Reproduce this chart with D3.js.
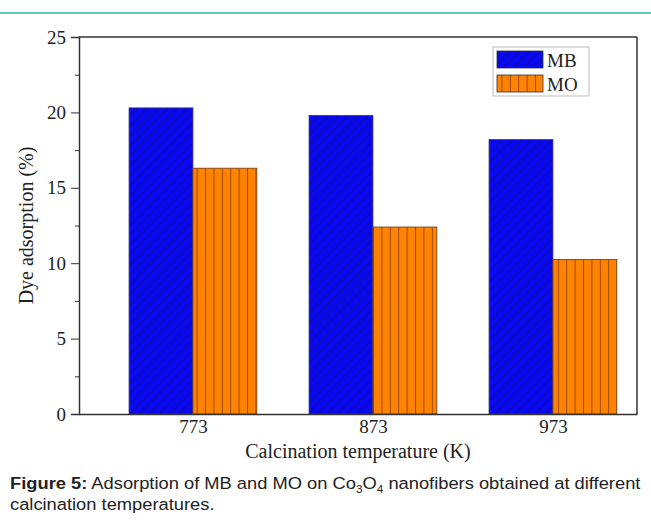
<!DOCTYPE html>
<html>
<head>
<meta charset="utf-8">
<script src="https://cdn.jsdelivr.net/npm/d3@7"></script>
<style>
  body { margin: 0; background: #fff; }
  svg { display: block; }
</style>
</head>
<body>
<div id="chart"></div>
<script>
// data
const temps = [773, 873, 973];
const mbValues = [20.3, 19.8, 18.2];
const moValues = [16.3, 12.4, 10.25];
const series = ["MB", "MO"];
const yTicks = [0, 5, 10, 15, 20, 25];

const W = 651, H = 522;
const margin = { top: 37, right: 14, bottom: 108, left: 79 },
    width = W - margin.left - margin.right,
    height = H - margin.top - margin.bottom;

const svg = d3.select("#chart")
    .append("svg")
    .attr("width", W)
    .attr("height", H);

// teal rule at top of page
svg.append("line")
    .attr("x1", 0).attr("x2", W)
    .attr("y1", 13).attr("y2", 13)
    .style("stroke", "#5ccdbb")
    .style("stroke-width", 2);

const defs = svg.append("defs");

// diagonal hatch for MB
const pMB = defs.append("pattern")
    .attr("id", "hatchMB")
    .attr("patternUnits", "userSpaceOnUse")
    .attr("width", 7).attr("height", 7)
    .attr("patternTransform", "rotate(45)");
pMB.append("rect").attr("width", 7).attr("height", 7).attr("fill", "#0808f5");
pMB.append("line")
    .attr("x1", 1).attr("y1", 0).attr("x2", 1).attr("y2", 7)
    .style("stroke", "#0c0cb0").style("stroke-width", 1.7);

// vertical lines for MO
const pMO = defs.append("pattern")
    .attr("id", "hatchMO")
    .attr("patternUnits", "userSpaceOnUse")
    .attr("width", 8.4).attr("height", 8)
    .attr("x", 0);
pMO.append("rect").attr("width", 8.4).attr("height", 8).attr("fill", "#ff8200");
pMO.append("line")
    .attr("x1", 0.5).attr("y1", 0).attr("x2", 0.5).attr("y2", 8)
    .style("stroke", "#9a4a10").style("stroke-width", 1);

const g = svg.append("g")
    .attr("transform", "translate(" + margin.left + "," + margin.top + ")");

// X scale (temperature, K)
const x = d3.scaleLinear()
    .domain([709.7, 1019.7])
    .range([0, width]);
const barW = x(773 + 35.5) - x(773);

// Y scale
const y = d3.scaleLinear()
    .domain([0, 25])
    .range([height, 0]);

const fill = d3.scaleOrdinal()
    .domain(series)
    .range(["url(#hatchMB)", "url(#hatchMO)"]);

// bars
const rows = temps.map((t, i) => ({ t: t, MB: mbValues[i], MO: moValues[i] }));
series.forEach((s, k) => {
    g.append("g")
        .selectAll("rect")
        .data(rows)
        .enter()
        .append("rect")
        .attr("x", d => x(d.t) + (k - 1) * barW)
        .attr("y", d => y(d[s]))
        .attr("width", barW)
        .attr("height", d => y(0) - y(d[s]))
        .attr("fill", fill(s))
        .style("stroke", k === 0 ? "#3a3a7a" : "#6a3a10")
        .style("stroke-width", 0.8);
});

const axisColor = "#333";
const tickFont = "'Liberation Serif', 'Times New Roman', serif";

// frame (top + right)
g.append("line").attr("x1", 0).attr("x2", width).attr("y1", 0).attr("y2", 0)
    .style("stroke", axisColor).style("stroke-width", 1.5);
g.append("line").attr("x1", width).attr("x2", width).attr("y1", 0).attr("y2", height)
    .style("stroke", axisColor).style("stroke-width", 1.5);

// minor y ticks
g.append("g")
    .call(d3.axisLeft(y).tickValues(d3.range(2.5, 25, 5)).tickSize(4).tickFormat(""))
    .call(a => a.select(".domain").remove())
    .selectAll("line").style("stroke", axisColor);

// Y axis
const yAxis = g.append("g")
    .call(d3.axisLeft(y).tickValues(yTicks).tickSize(8).tickPadding(5).tickFormat(d3.format("d")));
yAxis.select(".domain").style("stroke", axisColor).style("stroke-width", 1.5);
yAxis.selectAll(".tick line").style("stroke", axisColor);
yAxis.selectAll("text")
    .style("font-family", tickFont)
    .style("font-size", "19px")
    .style("fill", "#222");

// X axis
const xAxis = g.append("g")
    .attr("transform", "translate(0," + height + ")")
    .call(d3.axisBottom(x).tickValues(temps).tickSize(0).tickPadding(6).tickFormat(d3.format("d")));
xAxis.select(".domain").style("stroke", axisColor).style("stroke-width", 1.5);
xAxis.selectAll("text")
    .style("font-family", tickFont)
    .style("font-size", "19px")
    .style("fill", "#222");

// axis titles
g.append("text")
    .attr("text-anchor", "middle")
    .attr("x", width / 2)
    .attr("y", height + 44)
    .text("Calcination temperature (K)")
    .style("font-family", tickFont)
    .style("font-size", "20px")
    .style("fill", "#222");

g.append("text")
    .attr("text-anchor", "middle")
    .attr("transform", "rotate(-90)")
    .attr("x", -height / 2)
    .attr("y", -46)
    .text("Dye adsorption (%)")
    .style("font-family", tickFont)
    .style("font-size", "20px")
    .style("fill", "#222");

// legend
const legend = svg.append("g")
    .attr("transform", "translate(493,47)");
legend.append("rect")
    .attr("width", 96).attr("height", 49)
    .attr("fill", "#fff")
    .style("stroke", "#bbb").style("stroke-width", 1);
series.forEach((s, i) => {
    legend.append("rect")
        .attr("x", 4).attr("y", 4 + i * 24)
        .attr("width", 46).attr("height", 17)
        .attr("fill", fill(s))
        .style("stroke", "#333").style("stroke-width", 0.8);
    legend.append("text")
        .attr("x", 54).attr("y", 13 + i * 24)
        .attr("dy", "0.35em")
        .text(s)
        .style("font-family", tickFont)
        .style("font-size", "19px")
        .style("fill", "#222");
});

// caption, condensed horizontally to fit like the original
const capFont = "'Liberation Sans', Arial, sans-serif";
const cap = svg.append("g").attr("transform", "translate(10,0)");
const cap1 = cap.append("text")
    .attr("y", 489)
    .style("font-family", capFont)
    .style("font-size", "17px")
    .style("fill", "#222");
cap1.append("tspan").style("font-weight", "bold").text("Figure 5:");
cap1.append("tspan").text(" Adsorption of MB and MO on Co");
cap1.append("tspan").attr("dy", 4).style("font-size", "11px").text("3");
cap1.append("tspan").attr("dy", -4).text("O");
cap1.append("tspan").attr("dy", 4).style("font-size", "11px").text("4");
cap1.append("tspan").attr("dy", -4).text(" nanofibers obtained at different");

cap.append("text")
    .attr("y", 510)
    .style("font-family", capFont)
    .style("font-size", "17px")
    .style("fill", "#222")
    .text("calcination temperatures.");

const natural = cap1.node().getComputedTextLength();
const sx = 631 / natural;
cap.attr("transform", "translate(10,0) scale(" + sx + ",1)");
</script>
</body>
</html>
